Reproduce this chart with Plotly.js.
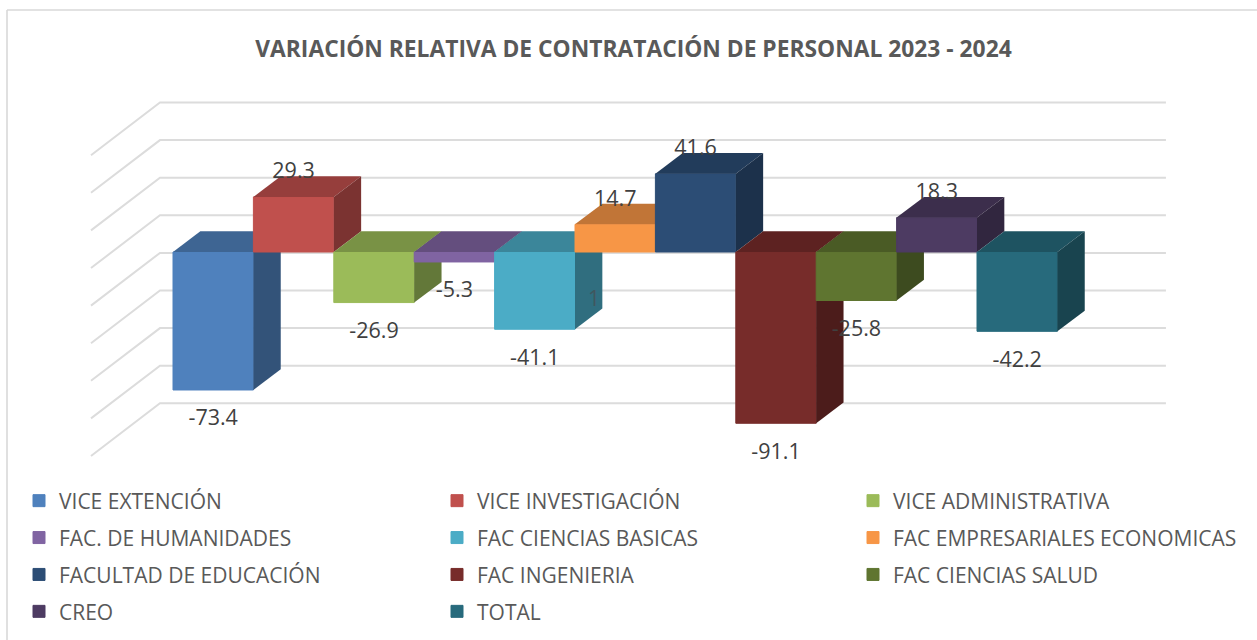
<!DOCTYPE html>
<html>
<head>
<meta charset="utf-8">
<script src="https://cdn.plot.ly/plotly-3.0.1.min.js"></script>
<style>html,body{margin:0;padding:0;background:#fff}</style>
</head>
<body>
<div id="chart" style="width:1257px;height:640px"></div>
<script>
// --- data ---
const categories = ["VICE EXTENCIÓN","VICE INVESTIGACIÓN","VICE ADMINISTRATIVA","FAC. DE HUMANIDADES","FAC CIENCIAS BASICAS","FAC EMPRESARIALES ECONOMICAS","FACULTAD DE EDUCACIÓN","FAC INGENIERIA","FAC CIENCIAS SALUD","CREO","TOTAL"];
const values = [-73.4,29.3,-26.9,-5.3,-41.1,14.7,41.6,-91.1,-25.8,18.3,-42.2];
const gridValues = [60,40,20,0,-20,-40,-60,-80,-100];
const frontColors = ["#4F81BD","#C0504D","#9BBB59","#8064A2","#4BACC6","#F79646","#2C4D75","#772C2A","#5F7530","#4D3B62","#276A7C"];
const titleText = "VARIACIÓN RELATIVA DE CONTRATACIÓN DE PERSONAL 2023 - 2024";

// --- scale and oblique projection (x in bar widths, y in value units) ---
const W = 1257, H = 640;
const barPx = 80.4, unitPx = 1.88, x0Px = 213.2, zeroPx = 252;
const xRange = [-x0Px/barPx, (W-x0Px)/barPx];
const yRange = [(zeroPx-H)/unitPx, zeroPx/unitPx];
const barDX = 0.34, barDY = 11;             // bar depth
const wall = {frontX:-1.52, backX:-0.662, rightX:11.85, frontDY:-8.51, backDY:19.52};
const labelFont = {family:"Open Sans, sans-serif", size:21.5, color:"#404040"};
const legendFont = {family:"Open Sans, sans-serif", size:21, color:"#595959"};

function shade(hex,f){
  const n=parseInt(hex.slice(1),16);
  const c=[n>>16,(n>>8)&255,n&255].map(v=>Math.round(v*f));
  return `rgb(${c[0]},${c[1]},${c[2]})`;
}
function legendOf(i){ return i%3===0 ? "legend" : i%3===1 ? "legend2" : "legend3"; }

const traces = [];
// wall grid lines
const gx=[], gy=[];
gridValues.forEach(v=>{
  gx.push(wall.frontX,wall.backX,wall.rightX,null);
  gy.push(v+wall.frontDY,v+wall.backDY,v+wall.backDY,null);
});
traces.push({type:"scatter",mode:"lines",x:gx,y:gy,line:{color:"#DCDCDC",width:2},showlegend:false,hoverinfo:"skip",xaxis:"x",yaxis:"y"});

const layoutAxes = {
  xaxis:{range:xRange,visible:false,fixedrange:true,domain:[0,1]},
  yaxis:{range:yRange,visible:false,fixedrange:true,domain:[0,1]}
};
// one overlaid layer per series so later bars paint over earlier ones
categories.forEach((name,i)=>{
  const n=i+2, xa="x"+n, ya="y"+n, v=values[i], col=frontColors[i];
  layoutAxes["xaxis"+n]={range:xRange,visible:false,fixedrange:true,overlaying:"x",anchor:ya};
  layoutAxes["yaxis"+n]={range:yRange,visible:false,fixedrange:true,overlaying:"y",anchor:xa};
  const l=i-0.5, r=i+0.5, t=Math.max(v,0);
  traces.push({type:"bar",name:name,x:[i],y:[v],width:1,marker:{color:col,line:{color:col,width:1}},
    xaxis:xa,yaxis:ya,legend:legendOf(i),legendgroup:"g"+i,hoverinfo:"name+y"});
  traces.push({type:"scatter",mode:"none",fill:"toself",fillcolor:shade(col,0.78),
    x:[l,l+barDX,r+barDX,r,l],y:[t,t+barDY,t+barDY,t,t],showlegend:false,hoverinfo:"skip",xaxis:xa,yaxis:ya});
  traces.push({type:"scatter",mode:"none",fill:"toself",fillcolor:shade(col,0.64),
    x:[r,r+barDX,r+barDX,r,r],y:[t,t+barDY,Math.min(v,0)+barDY,Math.min(v,0),t],showlegend:false,hoverinfo:"skip",xaxis:xa,yaxis:ya});
});
// data labels on the top layer
const topN = categories.length+2;
layoutAxes["xaxis"+topN]={range:xRange,visible:false,fixedrange:true,overlaying:"x",anchor:"y"+topN};
layoutAxes["yaxis"+topN]={range:yRange,visible:false,fixedrange:true,overlaying:"y",anchor:"x"+topN};
traces.push({type:"scatter",mode:"text",x:categories.map((c,i)=>i),
  y:values.map(v=>v<0 ? v-16 : v+12.7),text:values.map(v=>v.toFixed(1)),
  textposition:"middle center",textfont:labelFont,showlegend:false,hoverinfo:"skip",xaxis:"x"+topN,yaxis:"y"+topN,cliponaxis:false});

function legendAt(px){
  return {x:px/W,xanchor:"left",y:1-480.5/H,yanchor:"top",orientation:"v",font:legendFont,bgcolor:"rgba(0,0,0,0)",
    borderwidth:0,traceorder:"grouped",tracegroupgap:6.6,itemclick:false,itemdoubleclick:false,indentation:-9};
}
const layout = Object.assign({
  width:W,height:H,autosize:false,
  margin:{l:0,r:0,t:0,b:0,pad:0},
  paper_bgcolor:"#fff",plot_bgcolor:"rgba(0,0,0,0)",
  showlegend:true,
  title:{text:titleText,x:633.5/W,xref:"paper",xanchor:"center",y:1-49/H,yref:"paper",yanchor:"middle",
    font:{family:"Open Sans, sans-serif",size:22.8,color:"#595959",weight:700}},
  legend:legendAt(28),legend2:legendAt(446),legend3:legendAt(862),
  shapes:[
    {type:"line",xref:"paper",yref:"paper",x0:7/W,x1:1,y0:1-10/H,y1:1-10/H,line:{color:"#D9D9D9",width:1.6},layer:"below"},
    {type:"line",xref:"paper",yref:"paper",x0:7/W,x1:7/W,y0:1-10/H,y1:0,line:{color:"#D9D9D9",width:1.6},layer:"below"}
  ],
  annotations:[{text:"1",x:4.74,y:-24.5,xref:"x",yref:"y",showarrow:false,font:{family:"Open Sans, sans-serif",size:21,color:"#40565E"}}]
},layoutAxes);
Plotly.newPlot("chart",traces,layout,{displayModeBar:false,responsive:false});
</script>
</body>
</html>
